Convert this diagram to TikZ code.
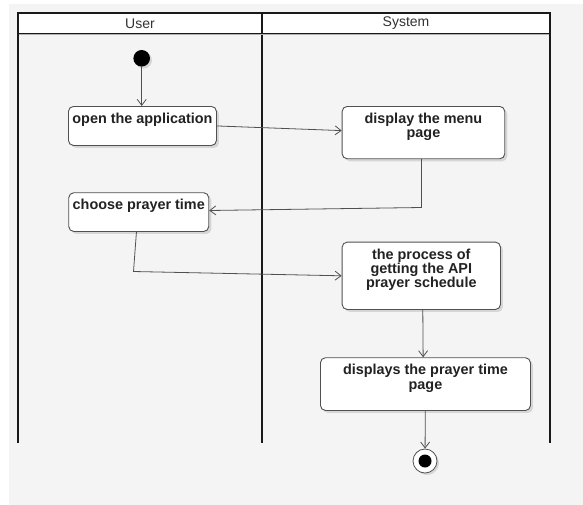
\documentclass[tikz,border=0pt]{standalone}
\usepackage{fontspec}
\setmainfont{Liberation Sans}
\usetikzlibrary{arrows.meta,shadows}

\definecolor{canvasgray}{HTML}{F4F4F4}
\definecolor{edgegray}{HTML}{505050}
\definecolor{inkgray}{HTML}{222222}
\definecolor{titlegray}{HTML}{333333}

% activity label: fixed-size box, text hung from the top edge
\newcommand{\actlabel}[3]{\parbox[c][#2][t]{#1}{\centering\rule{0pt}{17pt}#3\par}}

\tikzset{
  act/.style={draw=edgegray, line width=0.9pt, fill=white, rounded corners=5pt,
    inner sep=0pt, anchor=north west, text=inkgray,
    font=\fontsize{14.4}{14.4}\selectfont\bfseries,
    drop shadow={shadow xshift=2.5pt, shadow yshift=-2.5pt, opacity=0.12, fill=black}},
  startdot/.style={circle, fill=black, inner sep=0pt, minimum size=16.6pt,
    drop shadow={shadow xshift=2pt, shadow yshift=-2pt, opacity=0.12, fill=black}},
  enddot/.style={circle, draw=edgegray, line width=0.8pt, fill=white, inner sep=0pt,
    minimum size=24pt,
    path picture={\fill[black] (path picture bounding box.center) circle (6.5pt);},
    drop shadow={shadow xshift=2pt, shadow yshift=-2pt, opacity=0.12, fill=black}},
  lanetitle/.style={text=titlegray, font=\fontsize{14}{16}\selectfont},
  laneline/.style={draw=black!90, line width=2pt},
  flow/.style={draw=edgegray, line width=0.8pt, -{Straight Barb[length=6pt,width=9pt]}},
}

\begin{document}
\begin{tikzpicture}[x=1pt, y=-1pt]
  \useasboundingbox (0,0) rectangle (583,504);
  \fill[white] (-5,-5) rectangle (590,512);
  \fill[canvasgray] (9,4) rectangle (590,512);

  % swimlanes
  \fill[white] (18,13) rectangle (550,34);
  \draw[laneline] (18,443) -- (18,13) -- (550,13) -- (550,443);
  \draw[laneline] (262,13) -- (262,443);
  \draw[black!90, line width=2.6pt] (18,34) -- (550,34);
  \draw[gray!60, line width=0.6pt] (19,34) -- (549,34);
  \node[lanetitle] (userTitle) at (140,23.5) {User};
  \node[lanetitle] (systemTitle) at (406,23.5) {System};

  % states and activities
  \node[startdot] (start) at (141.7,58.3) {};
  \node[act] (open) at (68,106) {\actlabel{148pt}{39pt}{open the application}};
  \node[act] (display) at (341.7,106) {\actlabel{162.6pt}{52.3pt}{display the menu\\page}};
  \node[act] (choose) at (68.3,192.3) {\actlabel{140pt}{38.7pt}{choose prayer time}};
  \node[act] (process) at (341.7,241.7) {\actlabel{158.3pt}{67.3pt}{the process of\\getting the API\\prayer schedule}};
  \node[act] (displays) at (320,357.3) {\actlabel{210pt}{52.7pt}{displays the prayer time\\page}};
  \node[enddot] (end) at (425,461) {};

  % control flow
  \coordinate (bendA) at (421.5,207.5);
  \coordinate (bendB) at (133.5,271.5);
  \draw[flow] (start) -- (start |- open.north);
  \draw[flow] (open.east) -- ([yshift=2pt]display.west);
  \draw[flow] (display.south -| bendA) -- (bendA) -- ([yshift=1.6pt]choose.east);
  \draw[flow] ([xshift=-2.3pt]choose.south) -- (bendB) -- (process.west);
  \draw[flow] ([xshift=1.5pt]process.south) -- ([xshift=-2.3pt]displays.north);
  \draw[flow] (displays) -- (end);
\end{tikzpicture}
\end{document}
